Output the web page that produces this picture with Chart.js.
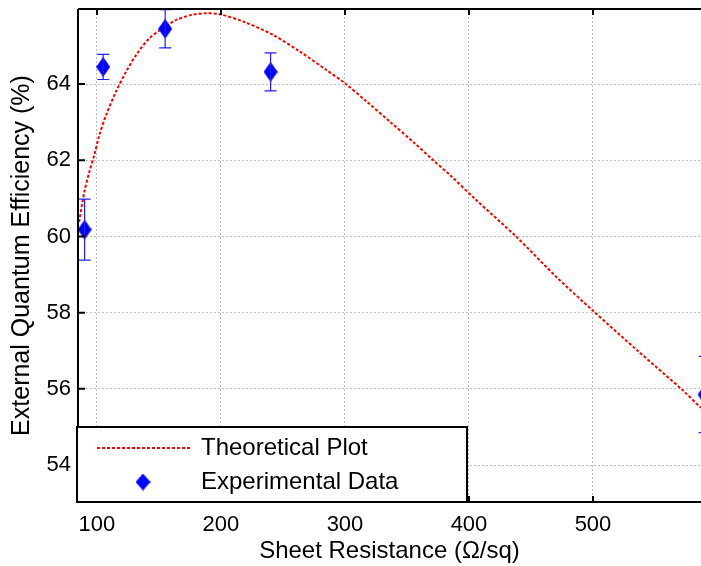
<!DOCTYPE html>
<html>
<head>
<meta charset="utf-8">
<script src="https://cdn.jsdelivr.net/npm/chart.js@4.4.1/dist/chart.umd.min.js"></script>
<style>
html, body { margin: 0; padding: 0; background: #fff; }
</style>
</head>
<body>
<canvas id="eqe" width="701" height="566"></canvas>
<script>
// theoretical curve
const theoryX = [85.6, 89.8, 93.8, 97.8, 101.9, 107.3, 115.3, 123.4, 131.5, 142.2, 153, 163.7, 177.1, 188, 199.2, 218, 242, 263.7, 285, 300, 317.5, 336.3, 355, 371.2, 384.7, 406, 438.5, 470.7, 500, 536, 572.8, 587];
const theoryY = [60.38, 61.17, 61.69, 62.13, 62.66, 63.18, 63.8, 64.32, 64.76, 65.2, 65.46, 65.68, 65.82, 65.86, 65.83, 65.64, 65.29, 64.85, 64.37, 64.02, 63.54, 63.01, 62.48, 62.0, 61.61, 60.95, 59.98, 58.93, 58.05, 57.0, 55.95, 55.5];

// measured points and their error bars
const expX = [90, 105, 155, 240, 590];
const expY = [60.18, 64.45, 65.45, 64.32, 55.85];
const expErr = [0.8, 0.33, 0.5, 0.5, 1.0];

const xTicks = [100, 200, 300, 400, 500];
const yTicks = [54, 56, 58, 60, 62, 64];

const FONT = 'Liberation Sans, Arial, Helvetica, sans-serif';

function diamond(w, h) {
    const c = document.createElement('canvas');
    c.width = w; c.height = h;
    const g = c.getContext('2d');
    g.fillStyle = '#0000ff';
    g.beginPath();
    g.moveTo(w / 2, 0); g.lineTo(w, h / 2); g.lineTo(w / 2, h); g.lineTo(0, h / 2);
    g.closePath();
    g.fill();
    return c;
}
const marker = diamond(14, 20);
const legendMarker = diamond(15, 17);

const errorBars = {
    id: 'errorBars',
    afterDatasetsDraw(chart) {
        const {ctx, chartArea, scales: {x, y}} = chart;
        ctx.save();
        ctx.beginPath();
        ctx.rect(chartArea.left, chartArea.top, chartArea.right - chartArea.left, chartArea.bottom - chartArea.top);
        ctx.clip();
        ctx.strokeStyle = '#2020ff';
        ctx.lineWidth = 1.2;
        expX.forEach((v, i) => {
            const px = x.getPixelForValue(v);
            const top = y.getPixelForValue(expY[i] + expErr[i]);
            const bot = y.getPixelForValue(expY[i] - expErr[i]);
            ctx.beginPath();
            ctx.moveTo(px, top); ctx.lineTo(px, bot);
            ctx.moveTo(px - 6, top); ctx.lineTo(px + 6, top);
            ctx.moveTo(px - 6, bot); ctx.lineTo(px + 6, bot);
            ctx.stroke();
        });
        ctx.restore();
    }
};

// axes box with inward ticks + legend in the lower left corner
const frame = {
    id: 'frame',
    afterDraw(chart) {
        const {ctx, chartArea: a, scales: {x, y}} = chart;
        ctx.save();
        ctx.strokeStyle = '#000';
        ctx.lineWidth = 2;
        ctx.beginPath();
        ctx.moveTo(a.left, a.top); ctx.lineTo(a.right, a.top);
        ctx.moveTo(a.left, a.top); ctx.lineTo(a.left, a.bottom);
        ctx.moveTo(a.left, a.bottom); ctx.lineTo(a.right, a.bottom);
        xTicks.forEach(v => {
            const px = x.getPixelForValue(v);
            ctx.moveTo(px, a.top); ctx.lineTo(px, a.top + 6);
            ctx.moveTo(px, a.bottom); ctx.lineTo(px, a.bottom - 6);
        });
        yTicks.forEach(v => {
            const py = y.getPixelForValue(v);
            ctx.moveTo(a.left, py); ctx.lineTo(a.left + 7, py);
        });
        ctx.stroke();

        // legend
        const lx = a.left - 1, lw = 390, lh = 75, ly = a.bottom - lh;
        ctx.fillStyle = '#fff';
        ctx.fillRect(lx, ly, lw, lh);
        ctx.strokeRect(lx, ly, lw, lh);
        ctx.strokeStyle = '#ff0000';
        ctx.lineWidth = 2;
        ctx.setLineDash([3, 2]);
        ctx.beginPath();
        ctx.moveTo(lx + 20, ly + 21); ctx.lineTo(lx + 113, ly + 21);
        ctx.stroke();
        ctx.setLineDash([]);
        ctx.drawImage(legendMarker, lx + 66 - 7.5, ly + 55 - 8.5);
        ctx.fillStyle = '#000';
        ctx.font = '24px ' + FONT;
        ctx.textBaseline = 'middle';
        ctx.fillText('Theoretical Plot', lx + 124, ly + 21);
        ctx.fillText('Experimental Data', lx + 124, ly + 55);
        ctx.restore();
    }
};

new Chart(document.getElementById('eqe'), {
    type: 'scatter',
    data: {
        datasets: [{
            label: 'Experimental Data',
            data: expX.map((v, i) => ({x: v, y: expY[i]})),
            pointStyle: marker,
            pointRadius: 8,
            pointHoverRadius: 8,
            order: 1
        }, {
            type: 'line',
            label: 'Theoretical Plot',
            data: theoryX.map((v, i) => ({x: v, y: theoryY[i]})),
            borderColor: '#ff0000',
            borderWidth: 2,
            borderDash: [3, 2],
            pointRadius: 0,
            fill: false,
            tension: 0.3,
            order: 2
        }]
    },
    options: {
        responsive: false,
        animation: false,
        layout: {autoPadding: false, padding: {top: 9, right: 0, left: 0, bottom: 0}},
        plugins: {
            legend: {display: false},
            tooltip: {enabled: false}
        },
        scales: {
            x: {
                type: 'linear',
                min: 84.7,
                max: 587.1,
                afterBuildTicks: s => { s.ticks = xTicks.map(v => ({value: v})); },
                afterFit: s => { s.height = 64; s.paddingLeft = 0; s.paddingRight = 0; },
                grid: {color: '#bdbdbd', lineWidth: 1, drawTicks: false},
                border: {display: false, dash: [2, 2]},
                ticks: {color: '#000', font: {family: FONT, size: 22}, padding: 10, maxRotation: 0, autoSkip: false},
                title: {display: true, text: 'Sheet Resistance (Ω/sq)', color: '#000', font: {family: FONT, size: 24}, padding: {top: 0, bottom: 0}}
            },
            y: {
                min: 53.03,
                max: 65.97,
                afterBuildTicks: s => { s.ticks = yTicks.map(v => ({value: v})); },
                afterFit: s => { s.width = 78; s.paddingTop = 0; s.paddingBottom = 0; },
                grid: {color: '#bdbdbd', lineWidth: 1, drawTicks: false},
                border: {display: false, dash: [2, 2]},
                ticks: {color: '#000', font: {family: FONT, size: 22}, padding: 7},
                title: {display: true, text: 'External Quantum Efficiency (%)', color: '#000', font: {family: FONT, size: 25}, padding: {top: 7, bottom: 0}}
            }
        }
    },
    plugins: [errorBars, frame]
});
</script>
</body>
</html>
